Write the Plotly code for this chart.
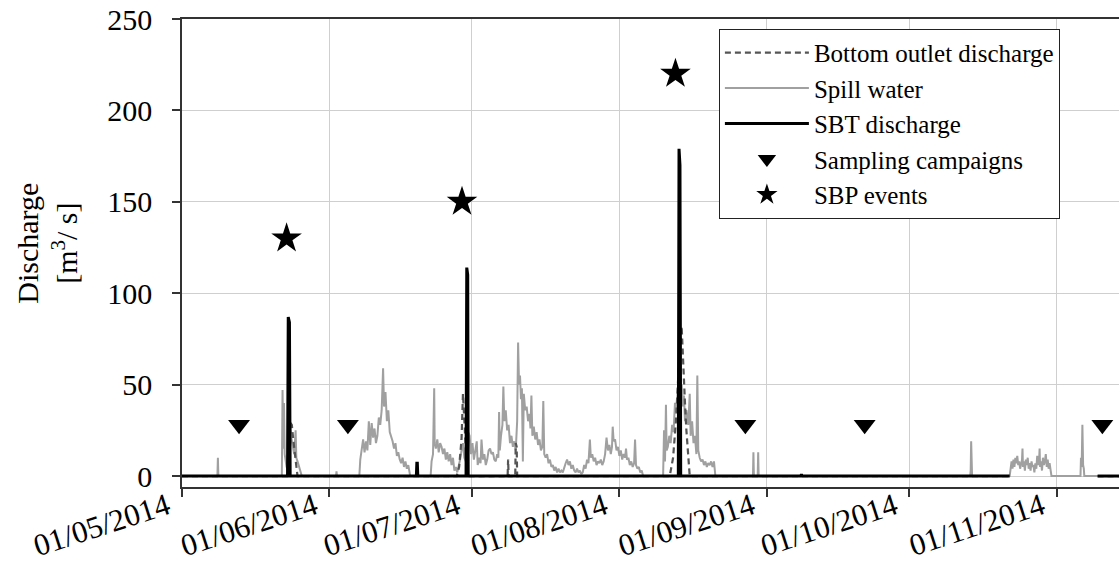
import pandas as pd
import plotly.graph_objects as go

BASE = pd.Timestamp("2014-05-01")
X_END_DAY = 197.1

# ---- data (day offset from 01/05/2014, discharge in m3/s) ----
spill_day = [
    0, 7.45, 7.55, 7.65,
    21.0, 21.15, 21.3, 21.45, 21.6, 21.8, 22.0, 22.4, 22.8, 23.0, 23.3, 23.6, 23.9, 24.05, 24.3, 24.6, 24.9, 25.2,
    32.4, 32.5, 32.6,
    37.3, 37.5, 37.8, 38.1, 38.4, 38.7, 39.0, 39.3, 39.6, 39.9, 40.2, 40.5, 40.8, 41.1, 41.4, 41.7, 42.0, 42.3,
    42.5, 42.8, 43.1, 43.4, 43.7, 44.0, 44.3, 44.6, 44.9, 45.2, 45.5, 45.8, 46.1, 46.4, 46.7, 47.0, 47.3, 47.6, 48.0,
    52.3, 52.5, 52.8, 53.05, 53.15, 53.4, 53.7, 54.0, 54.3, 54.6, 54.9, 55.2, 55.5, 55.8, 56.1, 56.4, 56.7, 57.0,
    57.3, 57.6, 57.9, 58.2, 58.5, 58.8, 59.1, 59.4, 59.7,
    60.2, 60.5, 60.8, 61.1, 61.4, 61.7, 62.0, 62.2, 62.5, 62.8, 63.0, 63.3, 63.6, 63.9, 64.2, 64.5, 64.8, 65.1,
    65.4, 65.7, 66.0, 66.3, 66.55, 66.7, 66.85, 67.1, 67.4, 67.6, 67.8, 68.1, 68.4, 68.7, 69.0, 69.3, 69.6, 69.9,
    70.2, 70.5, 70.7, 70.9, 71.1, 71.3, 71.5, 71.7, 71.9, 72.2, 72.5, 72.8, 73.1, 73.3, 73.5, 73.7, 74.0, 74.3,
    74.6, 74.9, 75.2, 75.5, 75.8, 76.0, 76.2, 76.5, 76.8, 77.1, 77.4, 77.7, 78.0, 78.3, 78.6, 78.9, 79.2, 79.5,
    79.8, 80.1, 80.4, 80.7, 81.0, 81.3, 81.6, 81.9, 82.2, 82.5, 82.8, 83.1, 83.4, 83.7, 84.0, 84.3, 84.6, 84.9,
    85.2, 85.5, 85.8, 86.0, 86.3, 86.6, 86.9, 87.2, 87.5, 87.8, 88.1, 88.4, 88.7, 89.0, 89.3, 89.6, 89.9, 90.2,
    90.45, 90.6, 90.8, 91.1, 91.4, 91.7, 92.0, 92.3, 92.6, 92.9, 93.2, 93.4, 93.6, 93.9, 94.2, 94.5, 94.8, 95.1,
    95.3, 95.5, 95.8, 96.1, 96.4, 96.7, 97.0,
    101.2, 101.4, 101.6, 101.8, 101.95, 102.2, 102.5, 102.8, 103.1, 103.4, 103.7, 104.0, 104.3, 104.6, 104.9,
    105.1, 105.4, 105.6, 105.8, 106.1, 106.5, 106.8, 107.0, 107.3, 107.6, 107.9, 108.2, 108.4, 108.6, 108.9,
    109.2, 109.5, 109.8, 110.1, 110.4, 110.7, 111.0, 111.3, 111.6, 111.9, 112.2,
    120.1, 120.2, 120.3, 121.1, 121.2, 121.3,
    165.8, 165.9, 166.0, 166.1, 166.2,
    174.1, 174.3, 174.5, 174.7, 174.9, 175.1, 175.3, 175.5, 175.7, 175.9, 176.1, 176.3, 176.5, 176.7, 176.8,
    176.9, 177.1, 177.3, 177.5, 177.7, 177.9, 178.1, 178.3, 178.5, 178.7, 178.9, 179.1, 179.3, 179.5, 179.7,
    179.9, 180.1, 180.3, 180.4, 180.5, 180.7, 180.9, 181.1, 181.3, 181.5, 181.7, 181.9, 182.1, 182.3, 182.5,
    182.7, 182.9,
    189.0, 189.1, 189.25, 189.4, 189.55, 189.7, 189.8,
    197.1,
]
spill_q = [
    0, 0, 10, 0,
    0, 47, 15, 40, 12, 8, 5, 3, 25, 21, 15, 12, 25, 10, 8, 5, 3, 0,
    0, 2.5, 0,
    0, 9, 16, 20, 13, 19, 14, 30, 17, 29, 21, 26, 18, 22, 32, 28, 36, 59,
    38, 46, 30, 36, 24, 22, 19, 15, 18, 11, 13, 9, 7, 10, 5, 8, 4, 6, 0,
    0, 8, 12, 48, 18, 15, 20, 13, 18, 16, 12, 15, 9, 13, 8, 12, 6, 10,
    3, 5, 2, 5, 9, 14, 18, 10, 8,
    24, 22, 12, 18, 9, 14, 19, 6, 10, 7, 20, 9, 12, 6, 9, 14, 15, 12,
    13, 9, 8, 12, 10, 35, 14, 22, 28, 49, 30, 36, 25, 28, 18, 22, 16, 19,
    14, 30, 73, 50, 55, 42, 48, 8, 45, 36, 38, 30, 34, 26, 44, 22, 27, 20,
    24, 17, 20, 14, 16, 41, 12, 10, 12, 7, 9, 5, 6, 3, 5, 2, 4, 2,
    3, 2, 5, 7, 9, 6, 8, 4, 6, 3, 2, 4, 2, 3, 1, 2, 6, 4,
    9, 7, 20, 10, 12, 8, 10, 6, 8, 7, 9, 6, 8, 12, 21, 14, 17, 12,
    16, 27, 19, 20, 14, 16, 11, 14, 9, 12, 10, 15, 9, 10, 6, 8, 5, 7,
    20, 6, 4, 5, 2, 3, 0,
    0, 25, 8, 39, 14, 16, 22, 18, 28, 24, 40, 35, 48, 45, 40,
    50, 38, 44, 30, 36, 28, 45, 22, 30, 18, 22, 12, 55, 14, 10,
    8, 9, 6, 8, 5, 7, 6, 8, 5, 8, 0,
    0, 13, 0, 0, 13, 0,
    0, 3, 19, 3, 0,
    0, 6, 8, 4, 9, 5, 10, 7, 11, 6, 8, 4, 7, 9, 15,
    5, 8, 3, 9, 6, 10, 4, 7, 3, 8, 5, 6, 2, 7, 4,
    11, 6, 9, 15, 5, 8, 3, 10, 6, 8, 12, 5, 9, 4, 7,
    3, 0,
    0, 10, 5, 28, 6, 4, 0,
    0,
]

bottom_day = [0, 22.6, 22.8, 23.1, 23.4, 23.7, 24.0, 24.3,
              57.8, 58.3, 58.8, 59.1, 59.4, 59.7, 60.0,
              68.5, 68.6, 68.7, 70.1, 70.2, 70.4, 70.5,
              102.6, 103.3, 103.9, 104.3, 104.6, 105.1, 105.4, 105.8, 106.1, 106.5, 106.8,
              174.1, None, 192.6, 197.1]
bottom_q = [0, 0, 29, 28, 20, 14, 8, 0,
            0, 5, 20, 45, 30, 12, 0,
            0, 9, 0, 0, 18, 16, 0,
            0, 10, 30, 50, 65, 82, 60, 40, 25, 10, 0,
            0, None, 0, 0]

sbt_day = [0, 22.2, 22.35, 22.6, 22.75, 49.3, 49.4, 49.5, 49.6,
           59.75, 59.9, 60.1, 60.2, 104.4, 104.55, 104.75, 104.9,
           130.2, 130.3, 130.4, 174.1, None, 192.6, 197.1]
sbt_q = [0, 0, 87, 84, 0, 0, 7, 7, 0,
         0, 114, 110, 0, 0, 179, 170, 0,
         0, 1, 0, 0, None, 0, 0]

sampling_day = [12.0, 34.9, 118.5, 143.6, 193.6]
sampling_q = [28, 28, 28, 28, 28]

sbp_day = [22.0, 58.9, 103.8]
sbp_q = [130, 150, 220]

tick_dates = ["2014-05-01", "2014-06-01", "2014-07-01", "2014-08-01",
              "2014-09-01", "2014-10-01", "2014-11-01"]
tick_labels = ["01/05/2014", "01/06/2014", "01/07/2014", "01/08/2014",
               "01/09/2014", "01/10/2014", "01/11/2014"]
y_ticks = [0, 50, 100, 150, 200, 250]


def to_dates(days):
    return [None if d is None else BASE + pd.Timedelta(days=d) for d in days]


FONT = "Liberation Serif"
NBSP = "\u00a0"
fig = go.Figure()

fig.add_trace(go.Scatter(
    x=to_dates(spill_day), y=spill_q, mode="lines", name="Spill water",
    line=dict(color="#a0a0a0", width=2), legendrank=2))
fig.add_trace(go.Scatter(
    x=to_dates(bottom_day), y=bottom_q, mode="lines", name="Bottom outlet discharge",
    line=dict(color="#555555", width=2.2, dash="6px,4px"), legendrank=1, connectgaps=False))
fig.add_trace(go.Scatter(
    x=to_dates(sbt_day), y=sbt_q, mode="lines", name="SBT discharge",
    line=dict(color="#000000", width=3), legendrank=3, connectgaps=False))
fig.add_trace(go.Scatter(
    x=to_dates(sampling_day), y=sampling_q, mode="markers", name="Sampling campaigns",
    marker=dict(symbol="triangle-down", size=19, color="black"), legendrank=4))
fig.add_trace(go.Scatter(
    x=to_dates(sbp_day), y=sbp_q, mode="markers", name="SBP events",
    marker=dict(symbol="star", size=23, color="black"), legendrank=5))

fig.update_layout(
    width=1119, height=576,
    margin=dict(l=182, r=0, t=19, b=89, autoexpand=False),
    plot_bgcolor="white", paper_bgcolor="white",
    font=dict(family=FONT, color="black"),
    showlegend=True,
    legend=dict(
        x=0.573, y=0.979, xanchor="left", yanchor="top",
        bordercolor="#222222", borderwidth=1, bgcolor="white",
        font=dict(family=FONT, size=25, color="black"),
        itemwidth=84, tracegroupgap=0,
    ),
    xaxis=dict(
        type="date",
        range=[BASE, BASE + pd.Timedelta(days=X_END_DAY)],
        tickvals=tick_dates, ticktext=[t + NBSP * 2 for t in tick_labels],
        tickangle=-18,
        tickfont=dict(family=FONT, size=31, color="black"),
        ticklabelstandoff=-25,
        showgrid=True, gridcolor="#cfcfcf", gridwidth=1,
        showline=True, linecolor="#333333", linewidth=1.5, mirror=True,
        ticks="outside", ticklen=8, tickcolor="#333333", tickwidth=1.5,
        zeroline=False, automargin=False,
    ),
    yaxis=dict(
        range=[-6, 250],
        tickvals=y_ticks,
        tickfont=dict(family=FONT, size=30, color="black"),
        showgrid=True, gridcolor="#cfcfcf", gridwidth=1,
        showline=True, linecolor="#333333", linewidth=1.5,
        ticks="outside", ticklen=8, tickcolor="#333333", tickwidth=1.5,
        ticklabelstandoff=14,
        zeroline=False, automargin=False,
    ),
    annotations=[dict(
        text="Discharge<br>[m<sup>3</sup>/ s]",
        xref="paper", yref="paper", x=-0.144, y=0.52,
        xanchor="center", yanchor="middle", textangle=-90, showarrow=False,
        font=dict(family=FONT, size=30, color="black"),
    )],
)

fig.write_html("out.html")
